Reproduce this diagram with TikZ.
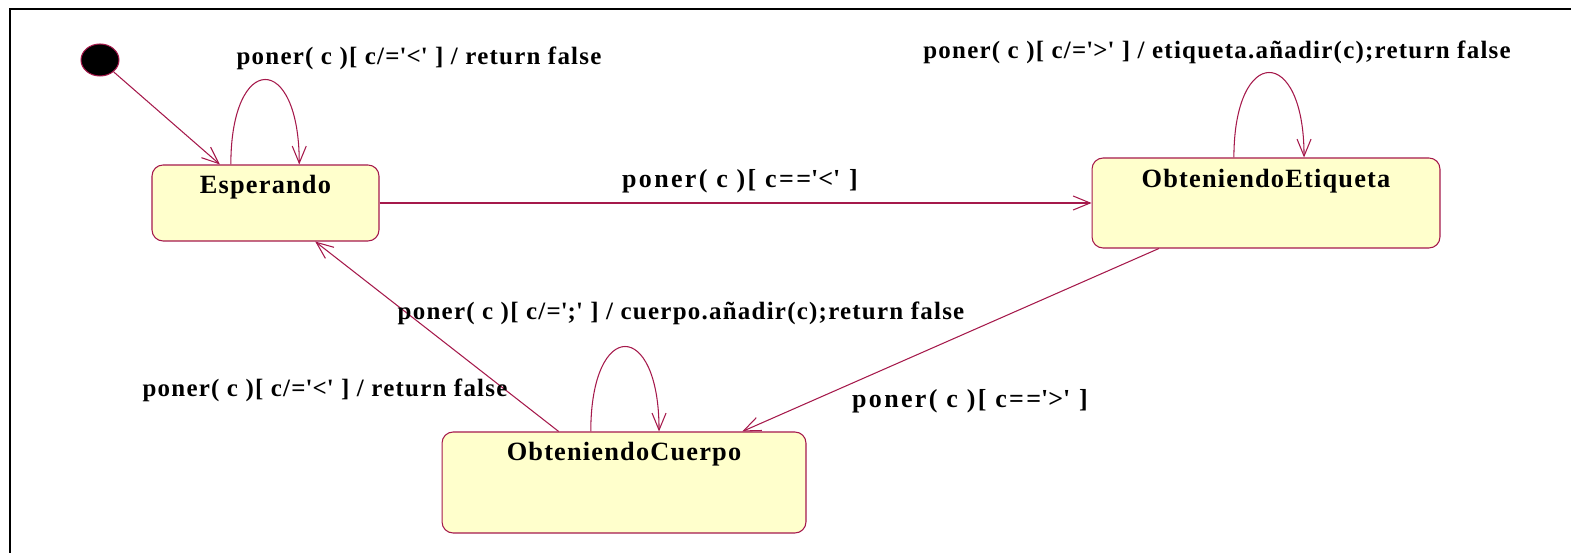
\documentclass[tikz,border=0pt]{standalone}
\usepackage{fontspec}
\setmainfont{Liberation Serif}
\usetikzlibrary{positioning}
\usetikzlibrary{calc}
\usetikzlibrary{arrows.meta}
\usetikzlibrary{shapes.geometric}
\definecolor{umlline}{RGB}{165,25,75}
\definecolor{umlfill}{RGB}{255,255,204}
\newcommand{\qt}{\textquotesingle}

\begin{document}
\begin{tikzpicture}[x=0.02cm, y=-0.02cm,
    state/.style={draw=umlline, fill=umlfill, rounded corners=0.22cm, line width=0.6pt, inner sep=0pt},
    statename/.style={font=\fontsize{15}{18}\selectfont\bfseries\addfontfeature{LetterSpace=4.5}, inner sep=0pt},
    trans/.style={draw=umlline, line width=0.6pt, -{Straight Barb[length=3.4mm, width=2.8mm]}},
    guard/.style={font=\fontsize{14.2}{17}\selectfont\bfseries\addfontfeature{LetterSpace=5}, inner sep=0pt},
    bigguard/.style={font=\fontsize{14.8}{17}\selectfont\bfseries\addfontfeature{LetterSpace=9}, inner sep=0pt}]

    \useasboundingbox (0,0) rectangle (1571,553);
    \draw[line width=1.2pt] (10,553) -- (10,9) -- (1571,9);

    \node[ellipse, fill=black, draw=umlline, line width=0.6pt, minimum width=0.76cm, minimum height=0.64cm] (init) at (100,60) {};

    \node[state, minimum width=4.54cm, minimum height=1.52cm] (esp) at (265.5,203) {};
    \node[state, minimum width=6.96cm, minimum height=1.8cm] (etq) at (1266,203) {};
    \node[state, minimum width=7.28cm, minimum height=2.02cm] (cue) at (624,482.5) {};

    \node[statename, below=0.2cm of esp.north] (espname) {Esperando};
    \node[statename, below=0.22cm of etq.north] (etqname) {ObteniendoEtiqueta};
    \node[statename, below=0.2cm of cue.north] (cuename) {ObteniendoCuerpo};

    \draw[trans] (init) -- ($(esp.north west)!0.30!(esp.north east)$);
    \draw[trans] ($(esp.north west)!0.348!(esp.north east)$) .. controls +(0,-113) and +(0,-113) .. ($(esp.north west)!0.648!(esp.north east)$);
    \draw[trans] (esp) -- (etq);
    \draw[trans] ($(etq.north west)!0.408!(etq.north east)$) .. controls +(0,-113) and +(0,-113) .. ($(etq.north west)!0.609!(etq.north east)$);
    \draw[trans] ($(etq.south west)!0.193!(etq.south east)$) -- ($(cue.north west)!0.824!(cue.north east)$);
    \draw[trans] ($(cue.north west)!0.409!(cue.north east)$) .. controls +(0,-113) and +(0,-113) .. ($(cue.north west)!0.596!(cue.north east)$);
    \draw[trans] ($(cue.north west)!0.321!(cue.north east)$) -- ($(esp.south west)!0.718!(esp.south east)$);

    \node[guard] (g1) at (419,58) {poner( c )[ c/=\qt<\qt\ ] / return false};
    \node[bigguard] (g2) at (740,181) {poner( c )[ c==\qt<\qt\ ]};
    \node[guard] (g3) at (1217,52) {poner( c )[ c/=\qt>\qt\ ] / etiqueta.añadir(c);return false};
    \node[guard] (g4) at (681,313) {poner( c )[ c/=\qt;\qt\ ] / cuerpo.añadir(c);return false};
    \node[guard] (g5) at (325,390) {poner( c )[ c/=\qt<\qt\ ] / return false};
    \node[bigguard] (g6) at (970,401) {poner( c )[ c==\qt>\qt\ ]};
\end{tikzpicture}
\end{document}
